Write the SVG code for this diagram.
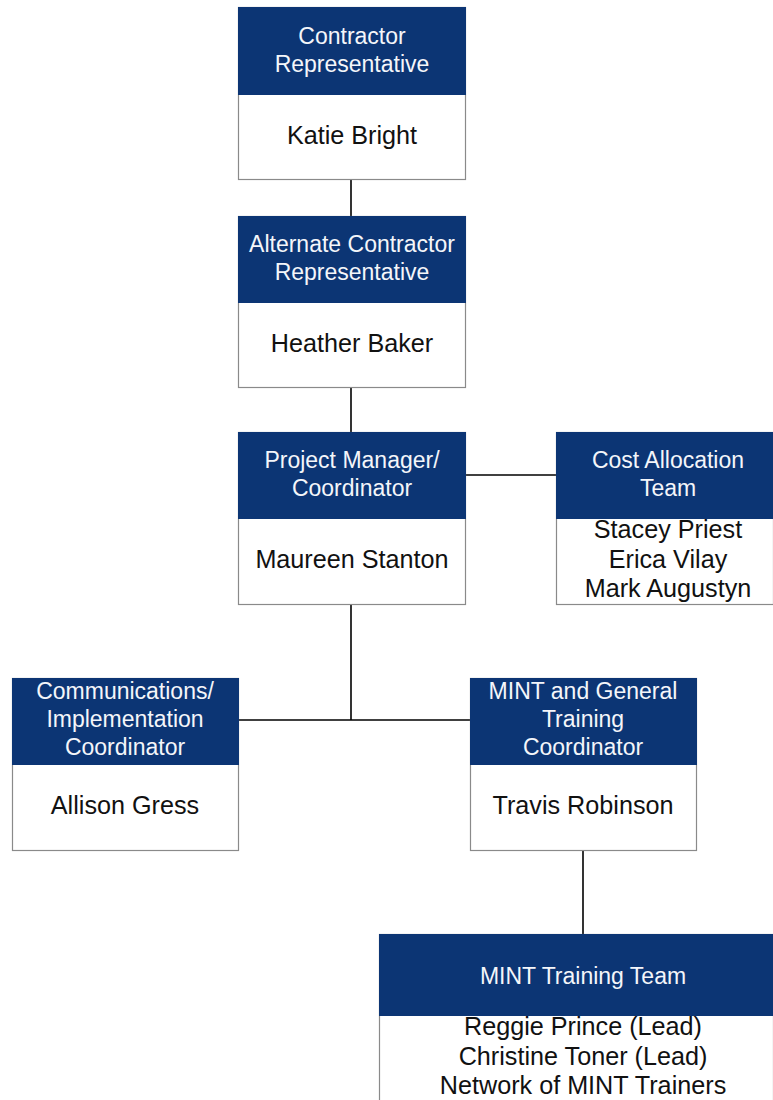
<svg xmlns="http://www.w3.org/2000/svg" width="773" height="1100" viewBox="0 0 773 1100">
<style>
.hd{fill:#0c3574;stroke:#0c3574;stroke-width:1}
.bd{fill:#ffffff;stroke:#8a8a8a;stroke-width:1.2}
.ht{font-family:"Liberation Sans",Arial,sans-serif;font-size:23px;fill:#f4f6fa;text-anchor:middle}
.nt{font-family:"Liberation Sans",Arial,sans-serif;font-size:25.2px;fill:#111111;text-anchor:middle}
.ln{stroke:#000000;stroke-width:1.6;fill:none}
</style>
<rect width="773" height="1100" fill="#ffffff"/>
<g id="connectors">
<line class="ln" x1="351" y1="180" x2="351" y2="216"/>
<line class="ln" x1="351" y1="388" x2="351" y2="432"/>
<line class="ln" x1="465" y1="475" x2="556" y2="475"/>
<line class="ln" x1="351" y1="605" x2="351" y2="720"/>
<line class="ln" x1="238" y1="720" x2="470" y2="720"/>
<line class="ln" x1="583" y1="850" x2="583" y2="934"/>
</g>
<g id="contractor-rep">
<rect class="bd" x="238.5" y="7.5" width="227" height="172"/>
<rect class="hd" x="238.5" y="7.5" width="227" height="87"/>
<text class="ht" x="352" y="44">Contractor</text>
<text class="ht" x="352" y="72">Representative</text>
<text class="nt" x="352" y="144">Katie Bright</text>
</g>
<g id="alt-contractor-rep">
<rect class="bd" x="238.5" y="216.5" width="227" height="171"/>
<rect class="hd" x="238.5" y="216.5" width="227" height="86"/>
<text class="ht" x="352" y="252">Alternate Contractor</text>
<text class="ht" x="352" y="280">Representative</text>
<text class="nt" x="352" y="352">Heather Baker</text>
</g>
<g id="project-manager">
<rect class="bd" x="238.5" y="432.5" width="227" height="172"/>
<rect class="hd" x="238.5" y="432.5" width="227" height="86"/>
<text class="ht" x="352" y="468">Project Manager/</text>
<text class="ht" x="352" y="496">Coordinator</text>
<text class="nt" x="352" y="568">Maureen Stanton</text>
</g>
<g id="cost-allocation">
<rect class="bd" x="556.5" y="432.5" width="217" height="172"/>
<rect class="hd" x="556.5" y="432.5" width="217" height="86"/>
<text class="ht" x="668" y="468">Cost Allocation</text>
<text class="ht" x="668" y="496">Team</text>
<text class="nt" x="668" y="538">Stacey Priest</text>
<text class="nt" x="668" y="568">Erica Vilay</text>
<text class="nt" x="668" y="597">Mark Augustyn</text>
</g>
<g id="communications">
<rect class="bd" x="12.5" y="678.5" width="226" height="172"/>
<rect class="hd" x="12.5" y="678.5" width="226" height="86"/>
<text class="ht" x="125" y="699">Communications/</text>
<text class="ht" x="125" y="727">Implementation</text>
<text class="ht" x="125" y="755">Coordinator</text>
<text class="nt" x="125" y="814">Allison Gress</text>
</g>
<g id="mint-coordinator">
<rect class="bd" x="470.5" y="678.5" width="226" height="172"/>
<rect class="hd" x="470.5" y="678.5" width="226" height="86"/>
<text class="ht" x="583" y="699">MINT and General</text>
<text class="ht" x="583" y="727">Training</text>
<text class="ht" x="583" y="755">Coordinator</text>
<text class="nt" x="583" y="814">Travis Robinson</text>
</g>
<g id="mint-team">
<rect class="bd" x="379.5" y="934.5" width="394" height="180"/>
<rect class="hd" x="379.5" y="934.5" width="394" height="81"/>
<text class="ht" x="583" y="984">MINT Training Team</text>
<text class="nt" x="583" y="1035">Reggie Prince (Lead)</text>
<text class="nt" x="583" y="1065">Christine Toner (Lead)</text>
<text class="nt" x="583" y="1094">Network of MINT Trainers</text>
</g>
</svg>
